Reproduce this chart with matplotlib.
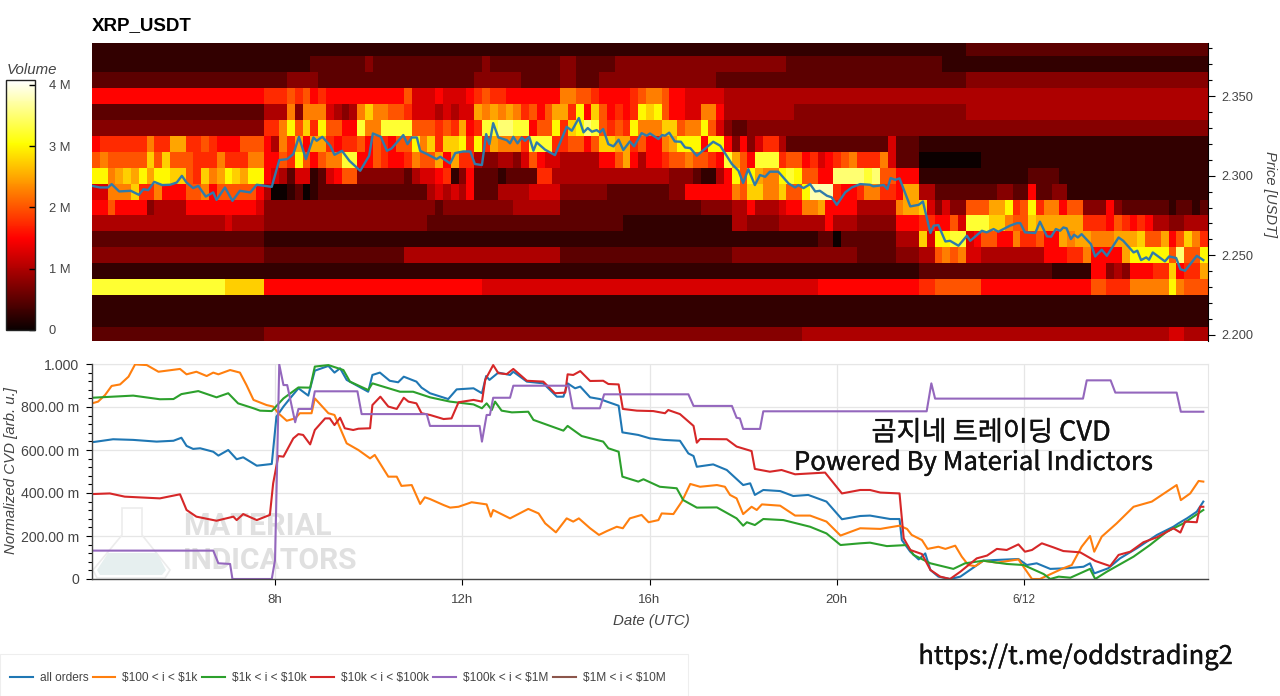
import matplotlib
matplotlib.use('Agg')
import matplotlib.pyplot as plt
import matplotlib.patheffects as pe
import numpy as np
from matplotlib.patches import Polygon, Rectangle
from matplotlib.ticker import FixedLocator, MultipleLocator, FixedFormatter

plt.rcParams['font.family'] = ['Liberation Sans', 'Noto Sans CJK KR']

W, H = 1280, 696
TEXT_GREY = '#444444'

# Volume per 10 min cell, one char per cell, 0..g in steps of 0.25 M (top row first)
price_levels = [2.38, 2.37, 2.36, 2.35, 2.34, 2.33, 2.32, 2.31, 2.30, 2.29,
                2.28, 2.27, 2.26, 2.25, 2.24, 2.23, 2.22, 2.21, 2.20]
n_cells = 143
heat_rows = [
    ("1"*43, "1"*55, "1"*14 + "2"*31),
    ("1"*28 + "222222232222222", "2222222" + "3" + "222222222" + "3322222" + "3"*22 + "2"*9, "2"*11 + "1"*34),
    ("2"*25 + "3333" + "2"*14, "222222" + "333333" + "22222" + "33" + "222" + "3333333" + "33333333" + "2"*18, "2"*14 + "3"*31),
    ("6"*22 + "777" + "8" + "7" + "8" + "6" + "7" + "6666" + "666666" + "8" + "55",
     "565556" + "78" + "77666" + "6666" + "9988" + "7" + "6666" + "78998" + "6655555" + "4"*17, "4"*45),
    ("2"*22 + "444" + "9" + "3" + "999" + "5" + "434" + "9" + "b" + "99" + "88" + "7" + "55",
     "545455" + "a" + "9a9a9" + "7868" + "aa" + "7c6b8" + "676" + "7" + "cbc" + "8" + "6655996" + "4"*9 + "3"*8,
     "3"*14 + "4"*31),
    ("3"*22 + "77" + "9" + "c" + "8" + "b" + "7" + "c" + "88" + "66" + "d" + "99" + "dddd" + "88",
     "8787" + "a67" + "ddeedd" + "6" + "88" + "c" + "7" + "bc" + "ed" + "8787" + "c" + "999" + "bb" + "8" + "99" + "c" + "8" + "5" + "3" + "22" + "3"*14,
     "3"*45),
    ("6" + "777777" + "9" + "77" + "aa" + "77" + "8" + "7" + "6" + "66" + "888" + "6" + "4" + "9" + "7" + "a" + "6" + "aa" + "7" + "6" + "77" + "8" + "6" + "8" + "7" + "6" + "88" + "c" + "9",
     "b7bbc7c7a" + "999" + "7" + "ddd" + "77" + "88" + "6" + "8" + "bb" + "aa" + "7" + "8" + "66" + "9" + "a" + "ccc" + "6" + "cc" + "6" + "3" + "6" + "3" + "5" + "77" + "4" + "2"*9,
     "2222" + "5" + "222" + "1"*37),
    ("8" + "9" + "88888" + "b" + "8" + "b" + "88" + "8" + "77" + "7" + "9" + "77" + "7" + "99" + "66" + "8" + "7" + "c" + "8" + "6" + "8" + "99" + "dd" + "66" + "8" + "7" + "66" + "7" + "9" + "8",
     "8a6a" + "77" + "4" + "33" + "44" + "3" + "5" + "8" + "6" + "55" + "44444" + "66" + "8" + "a" + "6" + "4" + "66" + "7" + "88" + "9" + "88" + "7" + "6" + "d" + "a" + "8" + "6" + "ddd" + "7" + "88" + "6" + "7" + "5" + "6" + "78" + "9",
     "777" + "9" + "5" + "222" + "0"*8 + "1"*29),
    ("cc" + "9" + "aba" + "c" + "a" + "cc" + "bb" + "8" + "7" + "b" + "9" + "a" + "c" + "b" + "a" + "cc" + "6" + "5" + "4" + "2" + "55" + "12" + "5" + "6" + "88" + "333333" + "2" + "4" + "5",
     "567136" + "222" + "1" + "222" + "2" + "77" + "4"*15 + "333" + "2" + "11" + "4" + "6" + "c" + "8" + "c" + "a" + "99" + "cdc" + "88" + "66" + "eee",
     "ede" + "88" + "666" + "1"*14 + "2"*4 + "1"*19),
    ("55" + "999" + "b" + "77" + "9" + "666" + "88" + "9" + "6" + "8" + "8888" + "6" + "4" + "00" + "1" + "2" + "0" + "1" + "2"*14,
     "45454" + "6" + "222" + "4444" + "5555" + "333333" + "22222" + "222" + "33" + "666666" + "9" + "8" + "bb" + "99" + "b" + "88" + "c" + "fff" + "7" + "66",
     "7" + "99" + "77" + "6" + "aa" + "44" + "222222223322" + "6" + "22" + "33" + "1"*18),
    ("66" + "8" + "6666" + "3" + "4444" + "6666" + "66666" + "5" + "3"*21,
     "32" + "3"*9 + "444444" + "2"*18 + "3333" + "44" + "6" + "444" + "5" + "66" + "99" + "a" + "6666",
     "44444" + "9" + "aa" + "b" + "5" + "3" + "5" + "33" + "888" + "aa" + "c" + "7" + "8" + "c" + "7" + "99" + "6" + "88" + "333" + "6" + "3" + "222222" + "12212"),
    ("4"*17 + "54" + "444" + "3"*21,
     "2"*25 + "1"*14 + "44" + "3333" + "444444" + "6" + "444",
     "33333" + "666" + "77" + "66" + "8" + "5" + "ddd" + "bb" + "9" + "88" + "b" + "aaaaaa" + "77" + "7" + "6" + "8" + "7" + "676" + "44" + "33" + "444"),
    ("2"*22 + "1"*21,
     "1"*50 + "22" + "0" + "22",
     "22222" + "444" + "b" + "5" + "cc" + "dd" + "56" + "88" + "66" + "9" + "77" + "8" + "66" + "a9a" + "a" + "999" + "aaa" + "b" + "88" + "a" + "6" + "8" + "b" + "9" + "7"),
    ("3"*22 + "2"*18 + "444",
     "4"*17 + "2"*22 + "3"*16,
     "22222" + "333" + "44" + "8989" + "55" + "4"*8 + "666" + "77" + "9" + "6666" + "a" + "c" + "cccc" + "8" + "e" + "88" + "c"),
    ("1"*43, "1"*55,
     "1"*8 + "22" + "2"*15 + "11111" + "66" + "343" + "666" + "77" + "b" + "6" + "77" + "a"),
    ("d"*17 + "b"*5 + "6"*21, "6"*7 + "5"*43 + "6"*5,
     "6"*8 + "77" + "8888" + "88" + "6"*9 + "66666" + "88" + "777" + "99999" + "c" + "9" + "888"),
    ("1"*43, "1"*55, "1"*45),
    ("1"*43, "1"*55, "1"*45),
    ("2"*22 + "3"*21, "3"*48 + "4"*7, "4"*40 + "55" + "444"),
]

price_hours = [4.09, 4.26, 4.43, 4.51, 4.67, 4.92, 5.09, 5.19, 5.29, 5.42, 5.59, 5.76, 5.90, 6.01, 6.11, 6.25, 6.36,
               6.52, 6.68, 6.75, 6.93, 7.09, 7.25, 7.47, 7.61, 7.93, 8.09, 8.26, 8.39, 8.51, 8.66, 8.82, 8.89, 9.01,
               9.18, 9.27, 9.43, 9.59, 9.82, 10.01, 10.09, 10.26, 10.39, 10.49, 10.74, 10.83, 10.92, 11.03, 11.10,
               11.25, 11.45, 11.53, 11.74, 11.85, 12.02, 12.17, 12.27, 12.42, 12.51, 12.58, 12.66, 12.77, 12.95, 13.02,
               13.09, 13.18, 13.27, 13.34, 13.43, 13.52, 13.59, 13.77, 13.98, 14.23, 14.34, 14.49, 14.59, 14.68, 14.77,
               14.87, 14.94, 15.01, 15.12, 15.23, 15.34, 15.44, 15.58, 15.67, 15.83, 15.94, 16.01, 16.19, 16.27, 16.33,
               16.42, 16.54, 16.67, 16.76, 16.87, 17.01, 17.36, 17.51, 17.76, 17.90, 18.00, 18.11, 18.25, 18.36, 18.47,
               18.57, 18.75, 18.97, 19.11, 19.18, 19.29, 19.43, 19.54, 19.64, 19.79, 19.89, 20.00, 20.18, 20.32, 20.50,
               20.71, 20.78, 21.00, 21.08, 21.15, 21.25, 21.34, 21.57, 21.75, 21.84, 22.00, 22.07, 22.17, 22.32, 22.42,
               22.60, 22.78, 22.85, 23.10, 23.20, 23.35, 23.45, 23.70, 23.85, 23.92, 24.02, 24.24, 24.34, 24.49, 24.58,
               24.68, 24.77, 24.84, 24.91, 25.00, 25.07, 25.15, 25.23, 25.43, 25.52, 25.66, 25.77, 26.02, 26.12, 26.34,
               26.42, 26.50, 26.61, 26.67, 26.75, 27.01, 27.10, 27.25, 27.34, 27.44, 27.69, 27.83]
price_vals = [2.2936, 2.2926, 2.2926, 2.2947, 2.2901, 2.2905, 2.2880, 2.2915, 2.2909, 2.2961, 2.2941, 2.2943, 2.2957,
              2.2999, 2.2957, 2.2922, 2.2936, 2.2869, 2.2895, 2.2848, 2.2926, 2.2842, 2.2905, 2.2895, 2.2943, 2.2930,
              2.3098, 2.3104, 2.3135, 2.3244, 2.3104, 2.3240, 2.3219, 2.3244, 2.3188, 2.3131, 2.3156, 2.3093, 2.3031,
              2.3125, 2.3265, 2.3244, 2.3156, 2.3171, 2.3255, 2.3198, 2.3240, 2.3240, 2.3156, 2.3135, 2.3104, 2.3119,
              2.3077, 2.3142, 2.3152, 2.3152, 2.3073, 2.3067, 2.3261, 2.3198, 2.3330, 2.3240, 2.3223, 2.3203, 2.3244,
              2.3203, 2.3240, 2.3219, 2.3244, 2.3157, 2.3209, 2.3163, 2.3129, 2.3307, 2.3282, 2.3362, 2.3272, 2.3299,
              2.3276, 2.3286, 2.3272, 2.3293, 2.3198, 2.3184, 2.3226, 2.3161, 2.3215, 2.3184, 2.3267, 2.3251, 2.3265,
              2.3230, 2.3255, 2.3251, 2.3270, 2.3215, 2.3213, 2.3177, 2.3173, 2.3125, 2.3213, 2.3188, 2.3073, 2.3031,
              2.2954, 2.3041, 2.2941, 2.3004, 2.2993, 2.3025, 2.3025, 2.2951, 2.2926, 2.2941, 2.2922, 2.2947, 2.2901,
              2.2905, 2.2874, 2.2864, 2.2817, 2.2895, 2.2926, 2.2947, 2.2943, 2.2933, 2.2941, 2.2916, 2.2985, 2.2974,
              2.2983, 2.2807, 2.2817, 2.2838, 2.2640, 2.2686, 2.2690, 2.2587, 2.2591, 2.2560, 2.2623, 2.2591, 2.2654,
              2.2644, 2.2665, 2.2648, 2.2686, 2.2702, 2.2702, 2.2644, 2.2640, 2.2711, 2.2619, 2.2617, 2.2665, 2.2654,
              2.2675, 2.2669, 2.2602, 2.2629, 2.2612, 2.2633, 2.2570, 2.2493, 2.2535, 2.2497, 2.2612, 2.2591, 2.2518,
              2.2529, 2.2470, 2.2487, 2.2472, 2.2518, 2.2462, 2.2493, 2.2483, 2.2413, 2.2403, 2.2497, 2.2470]

blue_hours = [4.09, 4.54, 4.97, 5.47, 5.83, 6.00, 6.11, 6.25, 6.40, 6.68, 6.79, 7.00, 7.18, 7.32, 7.61, 7.93, 8.03, 8.18,
              8.32, 8.50, 8.71, 8.85, 9.14, 9.27, 9.39, 9.53, 9.99, 10.08, 10.24, 10.45, 10.63, 10.75, 11.02, 11.13,
              11.31, 11.70, 11.88, 12.24, 12.42, 12.51, 12.58, 12.77, 13.02, 13.09, 13.38, 13.73, 14.02, 14.16, 14.25,
              14.41, 14.52, 14.73, 14.94, 15.09, 15.34, 15.42, 15.76, 16.01, 16.30, 16.65, 16.83, 16.94, 17.01, 17.36,
              17.65, 18.00, 18.15, 18.25, 18.43, 18.79, 19.07, 19.39, 19.78, 20.11, 20.50, 20.71, 21.14, 21.34, 21.39,
              21.57, 21.75, 21.89, 22.00, 22.17, 22.42, 22.64, 23.13, 23.35, 23.88, 24.06, 24.27, 24.56, 24.91, 25.27,
              25.41, 25.50, 25.80, 26.05, 26.41, 26.84, 27.19, 27.30, 27.48, 27.69, 27.83]
blue_vals = [.636, .650, .647, .639, .643, .657, .619, .605, .608, .592, .574, .600, .557, .566, .527, .535, .755, .802,
             .840, .887, .853, .969, .991, .960, .980, .926, .871, .949, .960, .922, .915, .941, .918, .890,
             .864, .837, .882, .887, .864, .944, .926, .960, .949, .964, .918, .910, .848, .848, .910,
             .887, .895, .845, .837, .825, .806, .682, .670, .654, .647, .643, .584, .572, .522, .533,
             .507, .437, .445, .391, .414, .409, .386, .391, .360, .278, .293, .295, .279, .279, .181,
             .127, .091, .119, .042, .011, 0, .011, .085, .088, .093, .065, .073, .047, .050, .057,
             .073, .026, .050, .096, .143, .205, .243, .259, .282, .313, .360]

orange_hours = [4.09, 4.22, 4.37, 4.51, 4.69, 4.87, 5.01, 5.26, 5.51, 5.97, 6.11, 6.32, 6.54, 6.68, 6.79, 7.04, 7.25, 7.39,
                7.54, 7.82, 7.96, 8.07, 8.25, 8.43, 8.53, 8.78, 8.85, 9.14, 9.27, 9.53, 9.78, 10.03, 10.13, 10.42, 10.60,
                10.70, 10.92, 11.10, 11.20, 11.31, 11.60, 11.74, 11.92, 12.20, 12.52, 12.61, 12.66, 13.02, 13.41, 13.63,
                13.77, 14.00, 14.23, 14.37, 14.49, 14.73, 14.92, 15.09, 15.30, 15.43, 15.58, 15.83, 15.98, 16.19, 16.26,
                16.51, 16.69, 16.87, 17.08, 17.44, 17.61, 17.72, 17.86, 18.00, 18.18, 18.29, 18.40, 18.79, 19.11, 19.43,
                19.78, 20.08, 20.50, 20.93, 21.34, 21.50, 21.60, 21.82, 21.94, 22.17, 22.32, 22.53, 22.67, 22.81, 22.96,
                23.13, 23.42, 23.88, 24.17, 24.34, 24.84, 25.02, 25.23, 25.41, 25.50, 25.66, 25.98, 26.34, 26.73, 27.26,
                27.35, 27.55, 27.73, 27.83]
orange_vals = [.817, .825, .856, .898, .905, .941, .998, .995, .964, .977, .952, .964, .944, .960, .952, .972, .960, .902,
               .833, .809, .802, .771, .736, .747, .771, .771, .840, .771, .763, .631, .600, .561, .577, .476, .476,
               .433, .437, .349, .380, .372, .344, .332, .336, .357, .347, .290, .321, .282, .326, .305,
               .259, .217, .282, .267, .282, .236, .205, .223, .243, .236, .282, .298, .264, .274, .305,
               .302, .360, .442, .429, .437, .429, .391, .375, .302, .336, .321, .347, .341, .295, .295,
               .267, .202, .236, .233, .248, .233, .205, .181, .140, .150, .140, .155, .104, .065, .060,
               .085, .076, .091, 0, 0, .050, .065, .150, .200, .127, .197, .259, .336, .360, .437,
               .367, .398, .456, .453]

green_hours = [4.09, 4.97, 5.54, 5.83, 6.00, 6.36, 6.75, 7.00, 7.21, 7.54, 7.68, 7.93, 8.18, 8.50, 8.75, 8.85, 9.14, 9.46,
               9.60, 9.99, 10.08, 10.67, 10.95, 11.31, 11.74, 12.24, 12.42, 12.52, 12.63, 12.70, 12.84, 13.06, 13.41,
               13.52, 14.16, 14.25, 14.55, 15.01, 15.12, 15.34, 15.42, 15.76, 15.87, 16.22, 16.58, 16.72, 17.01, 17.44,
               17.86, 18.00, 18.08, 18.25, 18.43, 18.86, 19.43, 19.78, 20.08, 20.50, 20.71, 21.07, 21.50, 21.64, 22.00,
               22.49, 22.74, 23.13, 23.63, 23.99, 24.42, 24.56, 24.74, 24.99, 25.41, 25.52, 25.77, 26.34, 26.69, 27.05,
               27.41, 27.62, 27.83]
green_vals = [.843, .853, .836, .837, .860, .874, .845, .864, .817, .794, .783, .781, .840, .891, .890, .988, .995, .972,
              .918, .879, .910, .871, .871, .845, .825, .812, .794, .817, .786, .825, .783, .775, .778,
              .740, .690, .712, .665, .639, .608, .592, .476, .453, .464, .429, .422, .367, .332, .333,
              .282, .248, .264, .251, .279, .274, .243, .212, .158, .166, .169, .153, .158, .112, .073,
              .047, .073, .085, .070, .065, .023, 0, .011, .006, .047, 0, .034, .104, .158, .220,
              .259, .290, .321]

red_hours = [4.09, 4.47, 4.79, 5.54, 5.97, 6.11, 6.32, 6.75, 7.11, 7.18, 7.32, 7.61, 7.89, 7.96, 8.07, 8.18, 8.39, 8.50,
             8.60, 8.75, 8.85, 9.07, 9.17, 9.27, 9.39, 9.49, 9.67, 9.78, 10.03, 10.08, 10.25, 10.42, 10.60, 10.75, 10.85,
             11.02, 11.13, 11.31, 11.60, 11.77, 11.92, 12.24, 12.42, 12.49, 12.66, 12.77, 12.95, 13.09, 13.38, 13.73,
             13.98, 14.20, 14.25, 14.37, 14.52, 14.73, 15.01, 15.12, 15.34, 15.43, 15.73, 16.08, 16.33, 16.40, 16.65,
             16.94, 17.01, 17.08, 17.65, 17.86, 18.18, 18.25, 18.57, 18.82, 19.11, 19.43, 19.75, 20.11, 20.50, 20.71,
             20.93, 21.34, 21.43, 21.57, 21.82, 22.00, 22.21, 22.42, 22.64, 22.99, 23.21, 23.42, 23.63, 23.88, 24.02,
             24.17, 24.38, 24.63, 24.84, 25.20, 25.52, 25.84, 26.02, 26.27, 26.55, 26.84, 27.19, 27.34, 27.44, 27.69,
             27.76, 27.83]
red_vals = [.395, .398, .383, .375, .394, .321, .290, .271, .290, .274, .302, .274, .298, .445, .572, .569, .654, .674,
            .670, .626, .693, .747, .747, .716, .750, .701, .693, .699, .701, .809, .848, .802, .791, .843, .825,
            .817, .771, .763, .744, .747, .822, .833, .825, .926, .995, .957, .953, .977, .922, .918,
            .864, .867, .952, .949, .967, .921, .922, .907, .905, .791, .783, .781, .771, .786, .767,
            .712, .634, .651, .650, .616, .595, .512, .499, .507, .487, .491, .495, .398, .414, .414,
            .402, .398, .189, .135, .116, .042, .011, 0, .034, .096, .109, .140, .135, .161, .127,
            .135, .166, .147, .130, .124, .084, .060, .112, .127, .171, .194, .236, .216, .267, .264,
            .336, .336]

purple_hours = [4.09, 6.68, 6.79, 7.04, 7.09, 7.93, 8.00, 8.09, 8.18, 8.26, 8.43, 8.50, 8.78, 8.85, 9.76, 9.85, 11.24,
                11.31, 12.37, 12.42, 12.52, 12.59, 12.66, 13.02, 13.09, 14.27, 14.36, 14.94, 15.03, 16.83, 16.94, 17.76,
                17.86, 17.93, 18.00, 18.36, 18.43, 21.92, 22.02, 22.10, 25.26, 25.34, 25.85, 25.95, 27.26, 27.35, 27.83]
purple_vals = [.132, .132, .073, .070, 0, 0, .088, .998, .902, .902, .729, .791, .791, .873, .873, .767, .767,
               .712, .712, .639, .763, .763, .843, .843, .899, .899, .794, .794, .859, .859, .805, .805,
               .750, .747, .698, .698, .780, .780, .910, .839, .839, .924, .924, .867, .867, .778, .778]

series_labels = ['all orders', r'\$100 < i < \$1k', r'\$1k < i < \$10k', r'\$10k < i < \$100k',
                 r'\$100k < i < \$1M', r'\$1M < i < \$10M']
series_colors = ['#1f77b4', '#ff7f0e', '#2ca02c', '#d62728', '#9467bd', '#8c564b']

x_ticks = [8, 12, 16, 20, 24]
x_tick_labels = ['8h', '12h', '16h', '20h', '6/12']
cvd_ticks = [0, 0.2, 0.4, 0.6, 0.8, 1.0]
cvd_tick_labels = ['0', '200.00 m', '400.00 m', '600.00 m', '800.00 m', '1.000']
price_ticks = [2.20, 2.25, 2.30, 2.35]
price_tick_labels = ['2.200', '2.250', '2.300', '2.350']
vol_ticks = [0, 1, 2, 3, 4]
vol_tick_labels = ['0', '1 M', '2 M', '3 M', '4 M']
x_start, x_end = 4.09, 27.93


def fx(x):
    return x / W


def fy(y):
    return 1 - y / H


def box(left, top, right, bottom):
    return [fx(left), fy(bottom), (right - left) / W, (bottom - top) / H]


def decode_row(parts):
    sizes = (43, 55, 45)
    s = ''.join(p.ljust(n, p[-1])[:n] for p, n in zip(parts, sizes))
    return [int(c, 17) * 0.25 for c in s]


fig = plt.figure(figsize=(W / 100, H / 100), dpi=100)
fig.patch.set_facecolor('white')

# heatmap panel
ax1 = fig.add_axes(box(92, 43, 1208, 341))
volume = np.array([decode_row(r) for r in heat_rows])[::-1]
time_edges = x_start + np.arange(n_cells + 1) / 6
price_edges = np.append(np.array(price_levels[::-1]) - 0.005, price_levels[0] + 0.005)
mesh = ax1.pcolormesh(time_edges, price_edges, volume, cmap='hot', vmin=0, vmax=4.08, shading='flat')
ax1.plot(price_hours, price_vals, color='#2f7bab', lw=1.7, zorder=3)
ax1.set_xlim(x_start, x_end)
ax1.set_ylim(2.1962, 2.3833)
ax1.xaxis.set_visible(False)
ax1.yaxis.tick_right()
ax1.yaxis.set_major_locator(FixedLocator(price_ticks))
ax1.yaxis.set_major_formatter(FixedFormatter(price_tick_labels))
ax1.yaxis.set_minor_locator(MultipleLocator(0.01))
ax1.tick_params(axis='y', which='major', length=5, width=0.8, labelsize=9.2, labelcolor=TEXT_GREY, pad=4.4)
ax1.tick_params(axis='y', which='minor', length=3, width=0.8)
for s in ['top', 'left', 'bottom']:
    ax1.spines[s].set_visible(False)
ax1.spines['right'].set_linewidth(0.8)
fig.text(fx(92), fy(26), 'XRP_USDT', fontsize=13.5, fontweight='bold', va='center', ha='left')
fig.text(fx(1270), fy(194), 'Price [USDT]', fontsize=10.6, style='italic', rotation=270,
         color=TEXT_GREY, ha='center', va='center')

# colour bar
cax = fig.add_axes(box(6, 80, 35, 330))
cb = fig.colorbar(mesh, cax=cax)
cb.set_ticks(vol_ticks, labels=vol_tick_labels)
cb.ax.tick_params(direction='in', length=4, width=1, labelsize=9.3, labelcolor=TEXT_GREY, pad=10)
cb.ax.minorticks_off()
cb.outline.set_linewidth(1)
cb.outline.set_edgecolor('#222222')
fig.text(fx(7), fy(70), 'Volume', fontsize=10.8, style='italic', color=TEXT_GREY, va='center', ha='left')

# CVD panel
ax2 = fig.add_axes(box(92, 364, 1208, 579))
ax2.set_axisbelow(True)
ax2.grid(True, color='#e6e6e6', lw=0.9)

# watermark
flask = [(122, 508), (142, 508), (142, 535), (170, 570), (165, 578), (97, 578), (93, 570), (122, 535)]
liquid = [(108, 553), (157, 553), (166, 570), (162, 575), (100, 575), (97, 570)]
ax2.add_patch(Polygon([(fx(a), fy(b)) for a, b in flask], closed=True, fc='none', ec='#ececec', lw=1.2,
                      transform=fig.transFigure, clip_on=False, zorder=1))
ax2.add_patch(Polygon([(fx(a), fy(b)) for a, b in liquid], closed=True, fc='#e6efef', ec='none',
                      transform=fig.transFigure, clip_on=False, zorder=1))
ax2.text(fx(183), fy(526), 'MATERIAL', transform=fig.transFigure, fontsize=22, fontweight='bold', color='#e0e0e0',
         family='Roboto', va='center', ha='left', zorder=1)
ax2.text(fx(183), fy(561), 'INDICATORS', transform=fig.transFigure, fontsize=21.6, fontweight='bold', color='#e0e0e0',
         family='Roboto', va='center', ha='left', zorder=1)

ax2.plot(blue_hours, blue_vals, color=series_colors[0], lw=1.5, label=series_labels[0], zorder=3)
ax2.plot(orange_hours, orange_vals, color=series_colors[1], lw=1.5, label=series_labels[1], zorder=3)
ax2.plot(green_hours, green_vals, color=series_colors[2], lw=1.5, label=series_labels[2], zorder=3)
ax2.plot(red_hours, red_vals, color=series_colors[3], lw=1.5, label=series_labels[3], zorder=3)
ax2.plot(purple_hours, purple_vals, color=series_colors[4], lw=1.5, label=series_labels[4], zorder=3)
ax2.plot([], [], color=series_colors[5], lw=1.5, label=series_labels[5])

ax2.set_xlim(x_start, x_end)
ax2.set_ylim(0, 1)
ax2.xaxis.set_major_locator(FixedLocator(x_ticks))
ax2.xaxis.set_major_formatter(FixedFormatter(x_tick_labels))
ax2.yaxis.set_major_locator(FixedLocator(cvd_ticks))
ax2.yaxis.set_major_formatter(FixedFormatter(cvd_tick_labels))
ax2.yaxis.set_minor_locator(MultipleLocator(0.04))
ax2.tick_params(axis='x', which='major', direction='out', length=4.5, width=0.8, labelsize=9.5,
                labelcolor=TEXT_GREY, pad=6.5)
ax2.tick_params(axis='y', which='major', direction='out', length=4.5, width=0.8, labelsize=10.2,
                labelcolor=TEXT_GREY, pad=5)
ax2.tick_params(axis='y', which='minor', direction='out', length=3, width=0.8)
ax2.get_xticklabels()[-1].set_fontsize(8.5)
for s in ['top', 'right']:
    ax2.spines[s].set_color('#e6e6e6')
for s in ['left', 'bottom']:
    ax2.spines[s].set_color('#444444')
    ax2.spines[s].set_linewidth(1)
    ax2.spines[s].set_zorder(4)
fig.text(fx(11), fy(471), 'Normalized CVD [arb. u.]', fontsize=10.8, style='italic', rotation=90,
         color=TEXT_GREY, ha='center', va='center')
fig.text(fx(651), fy(621), 'Date (UTC)', fontsize=10.8, style='italic', color=TEXT_GREY, ha='center', va='center')

# legend strip
fig.add_artist(Rectangle((0, 0), fx(688), 1 - 654 / H, transform=fig.transFigure, fc='white', ec='#eeeeee', lw=0.8))
fig.legend(*ax2.get_legend_handles_labels(), ncol=6, loc='center left', bbox_to_anchor=(fx(10), fy(678)),
           frameon=False, fontsize=8.6, handlelength=1.9, handletextpad=0.58, columnspacing=0.38,
           borderpad=0, borderaxespad=0, labelcolor=TEXT_GREY)

# pasted captions
cap_font = ['Noto Sans CJK KR', 'DejaVu Sans']
cap_edge = [pe.withStroke(linewidth=0.25, foreground='#111111')]
fig.text(fx(991), fy(433), '곰지네 트레이딩 CVD', fontsize=19.6, family=cap_font, ha='center', va='center',
         color='#111111', path_effects=cap_edge)
fig.text(fx(974), fy(463), 'Powered By Material Indictors', fontsize=18.5, family=cap_font, ha='center', va='center',
         color='#111111', path_effects=cap_edge)
fig.text(fx(1076), fy(657), 'https://t.me/oddstrading2', fontsize=18.4, family=cap_font, ha='center', va='center',
         color='#111111', path_effects=cap_edge)

fig.savefig('out.png', dpi=100)
